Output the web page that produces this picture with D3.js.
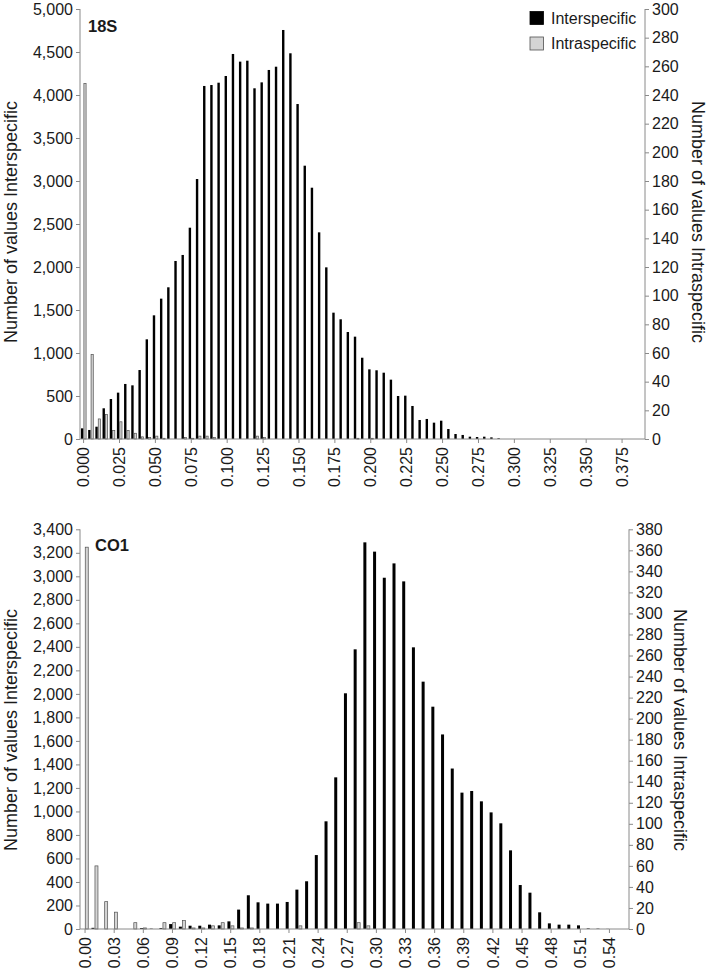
<!DOCTYPE html>
<html><head><meta charset="utf-8">
<script src="https://cdn.jsdelivr.net/npm/d3@7"></script>
<style>
body{margin:0;background:#fff}
svg text{font-family:"Liberation Sans",Arial,sans-serif;fill:#1a1a1a}
</style>
</head><body>
<svg id="c" width="709" height="968"></svg>
<script>
// ---------- 18S data ----------
const cats18S = [0.000,0.005,0.010,0.015,0.020,0.025,0.030,0.035,0.040,0.045,0.050,0.055,0.060,0.065,0.070,0.075,0.080,0.085,0.090,0.095,0.100,0.105,0.110,0.115,0.120,0.125,0.130,0.135,0.140,0.145,0.150,0.155,0.160,0.165,0.170,0.175,0.180,0.185,0.190,0.195,0.200,0.205,0.210,0.215,0.220,0.225,0.230,0.235,0.240,0.245,0.250,0.255,0.260,0.265,0.270,0.275,0.280,0.285,0.290,0.295,0.300,0.305,0.310,0.315,0.320,0.325,0.330,0.335,0.340,0.345,0.350,0.355,0.360,0.365,0.370,0.375,0.380,0.385,0.390];
const inter18S = [124,105,143,357,465,539,640,624,802,1159,
  1438,1632,1764,2070,2140,2457,3023,4105,4116,4143,
  4221,4477,4388,4399,4078,4147,4291,4329,4756,4485,
  3895,3178,2922,2403,1996,1469,1392,1244,1190,945,
  810,799,771,690,500,504,384,221,233,190,
  213,116,58,47,27,23,27,19,8,0,
  0,0,0,0,0,0,0,0,0,0,
  0,0,0,0,0,0,0,0,0];
const intra18S = [248,59,14,17,6,12,6,4,1.5,1,
  2,0.5,0,0,1,0.5,2,2,1,0,
  0,0,0,0,2,1,0,0,0,0,
  0,0,0,0,0,0,0,0,0.5,0,
  0.5,0,0,0,0,0,0,0,0,0,
  0,0,0,0,0,0,0,0,0,0,
  0,0,0,0,0,0,0,0,0,0,
  0,0,0,0,0,0,0,0,0];
const xTicks18S = [0.000,0.025,0.050,0.075,0.100,0.125,0.150,0.175,0.200,0.225,0.250,0.275,0.300,0.325,0.350,0.375];
const leftTicks18S = [0,500,1000,1500,2000,2500,3000,3500,4000,4500,5000];
const rightTicks18S = [0,20,40,60,80,100,120,140,160,180,200,220,240,260,280,300];

// ---------- CO1 data ----------
const catsCO1 = [0.00,0.01,0.02,0.03,0.04,0.05,0.06,0.07,0.08,0.09,0.10,0.11,0.12,0.13,0.14,0.15,0.16,0.17,0.18,0.19,0.20,0.21,0.22,0.23,0.24,0.25,0.26,0.27,0.28,0.29,0.30,0.31,0.32,0.33,0.34,0.35,0.36,0.37,0.38,0.39,0.40,0.41,0.42,0.43,0.44,0.45,0.46,0.47,0.48,0.49,0.50,0.51,0.52,0.53,0.54,0.55];
const interCO1 = [0,10,0,0,0,0,8,3,8,42,
  20,28,28,37,31,65,165,287,227,216,
  216,230,335,406,629,916,1290,2005,2379,3289,
  3210,2988,3110,2957,2396,2104,1891,1655,1365,1160,
  1174,1086,992,899,669,374,309,142,48,37,
  37,31,5,3,1,0];
const intraCO1 = [363,60,26,16,0,6,1,0,6,6,
  8,1,1,3,6,3,1,1,0,0,
  0,0,3,0,0,0,0,0,6,3,
  0,0,0,0,0,0,0,0,0,0,
  0,0,0,0,0,0,0,0,0,0,
  0,0,0,0,0,0];
const xTicksCO1 = [0.00,0.03,0.06,0.09,0.12,0.15,0.18,0.21,0.24,0.27,0.30,0.33,0.36,0.39,0.42,0.45,0.48,0.51,0.54];
const leftTicksCO1 = [0,200,400,600,800,1000,1200,1400,1600,1800,2000,2200,2400,2600,2800,3000,3200,3400];
const rightTicksCO1 = [0,20,40,60,80,100,120,140,160,180,200,220,240,260,280,300,320,340,360,380];

const seriesNames = ["Interspecific","Intraspecific"];
const leftTitle = "Number of values Interspecific";
const rightTitle = "Number of values Intraspecific";

const svg = d3.select("#c");
const AXIS = "#8a8a8a";

function drawChart(o){
  const g = svg.append("g");
  const x = d3.scaleBand().domain(o.cats).range(o.xRange).padding(0);
  const yL = d3.scaleLinear().domain([0, o.leftMax]).range([o.y0, o.y1]);
  const yR = d3.scaleLinear().domain([0, o.rightMax]).range([o.y0, o.y1]);
  const bw = x.bandwidth();
  const c = d => x(d) + bw/2;

  // black bars (left axis)
  g.selectAll("rect.inter").data(o.cats.map((k,i)=>({k, v:o.inter[i]})).filter(d=>d.v>0))
    .join("rect").attr("class","inter")
    .attr("x", d => c(d.k) + o.bOff).attr("width", o.bW)
    .attr("y", d => yL(d.v)).attr("height", d => yL(0) - yL(d.v))
    .attr("fill","#000");
  // grey bars (right axis)
  g.selectAll("rect.intra").data(o.cats.map((k,i)=>({k, v:o.intra[i]})).filter(d=>d.v>0))
    .join("rect").attr("class","intra")
    .attr("x", d => c(d.k) + o.gOff).attr("width", o.gW)
    .attr("y", d => yR(d.v)).attr("height", d => Math.max(0.8, yR(0) - yR(d.v)))
    .attr("fill","#d4d4d4").attr("stroke","#505050").attr("stroke-width",0.7);

  // axis lines
  g.append("line").attr("x1",o.axL).attr("x2",o.axL).attr("y1",o.y0).attr("y2",o.y1).attr("stroke",AXIS).attr("stroke-width",1);
  g.append("line").attr("x1",o.axR).attr("x2",o.axR).attr("y1",o.y0).attr("y2",o.y1).attr("stroke",AXIS).attr("stroke-width",1);
  g.append("line").attr("x1",o.axL).attr("x2",o.axR).attr("y1",o.y0).attr("y2",o.y0).attr("stroke",AXIS).attr("stroke-width",1);

  const la = g.append("g").attr("transform",`translate(${o.axL},0)`)
    .call(d3.axisLeft(yL).tickValues(o.leftTicks).tickFormat(d3.format(",")).tickSize(4).tickPadding(3));
  const ra = g.append("g").attr("transform",`translate(${o.axR},0)`)
    .call(d3.axisRight(yR).tickValues(o.rightTicks).tickFormat(d3.format("d")).tickSize(4).tickPadding(3));
  const xa = g.append("g").attr("transform",`translate(0,${o.y0})`)
    .call(d3.axisBottom(x).tickValues(o.xTicks).tickFormat(o.xFmt).tickSize(4));
  [la,ra,xa].forEach(a=>{
    a.select(".domain").remove();
    a.selectAll(".tick line").attr("stroke",AXIS);
    a.selectAll("text").attr("font-size",16).attr("fill","#1a1a1a").style("font-family",'"Liberation Sans",Arial,sans-serif');
  });
  xa.selectAll("text").attr("transform","rotate(-90)").attr("y",0).attr("x",-8).attr("dy","0.35em").attr("text-anchor","end");

  // titles
  g.append("text").attr("transform",`translate(${o.ltX},${o.tY}) rotate(-90)`).attr("text-anchor","middle").attr("font-size",18).text(leftTitle);
  g.append("text").attr("transform",`translate(${o.rtX},${o.tY}) rotate(90)`).attr("text-anchor","middle").attr("font-size",18).text(rightTitle);
  g.append("text").attr("x",o.nameX).attr("y",o.nameY).attr("font-size",16.5).attr("font-weight","bold").text(o.name);
}

drawChart({name:"18S", nameX:88, nameY:32, cats:cats18S, inter:inter18S, intra:intra18S,
  xRange:[80,647.2], axL:80, axR:645, y0:439, y1:9, leftMax:5000, rightMax:300,
  leftTicks:leftTicks18S, rightTicks:rightTicks18S, xTicks:xTicks18S, xFmt:d3.format(".3f"),
  bOff:-2.6, bW:2.4, gOff:0.3, gW:2.2, ltX:17, rtX:692, tY:222});

drawChart({name:"CO1", nameX:95, nameY:551, cats:catsCO1, inter:interCO1, intra:intraCO1,
  xRange:[80.2,624], axL:80, axR:629, y0:929, y1:529.3, leftMax:3400, rightMax:380,
  leftTicks:leftTicksCO1, rightTicks:rightTicksCO1, xTicks:xTicksCO1, xFmt:d3.format(".2f"),
  bOff:-3.3, bW:3.0, gOff:0.2, gW:3.0, ltX:17, rtX:674, tY:730});

// legend
const lg = svg.append("g");
seriesNames.forEach((n,i)=>{
  lg.append("rect").attr("x",530).attr("y",11.5+i*25.5).attr("width",13.5).attr("height",13)
    .attr("fill", i===0 ? "#000" : "#d4d4d4").attr("stroke", i===0 ? "#000" : "#505050").attr("stroke-width",0.8);
  lg.append("text").attr("x",551).attr("y",24+i*25).attr("font-size",16).text(n);
});
</script>
</body></html>
